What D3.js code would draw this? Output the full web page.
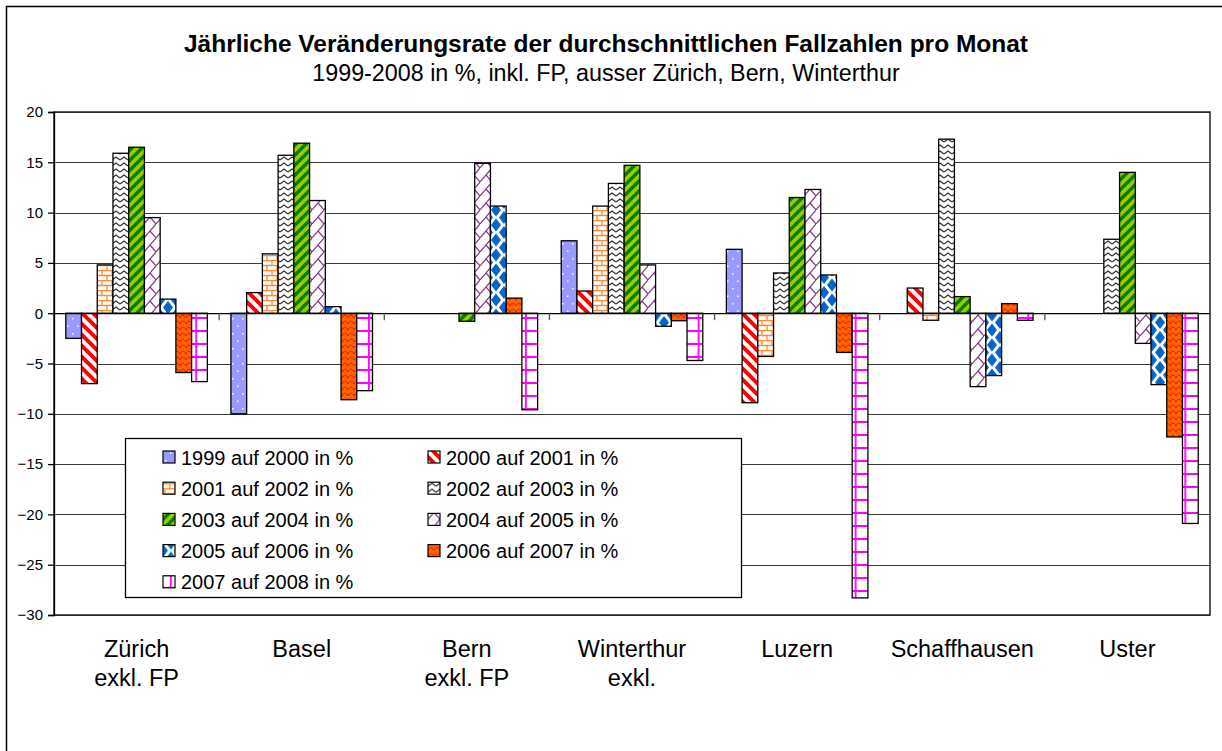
<!DOCTYPE html>
<html>
<head>
<meta charset="utf-8">
<script src="https://cdn.jsdelivr.net/npm/d3@7"></script>
<style>
    body { margin: 0; background: #fff; }
    text { font-family: "Liberation Sans", Arial, sans-serif; fill: #000; }
</style>
</head>
<body>
<div id="chart"></div>
<script>
// categories (x axis, one or two lines per label)
var categories = ["Zürich exkl. FP", "Basel", "Bern exkl. FP", "Winterthur exkl.", "Luzern", "Schaffhausen", "Uster"];
var categoryLines = [["Zürich", "exkl. FP"], ["Basel"], ["Bern", "exkl. FP"], ["Winterthur", "exkl."], ["Luzern"], ["Schaffhausen"], ["Uster"]];

// series names
var seriesNames = ["1999 auf 2000 in %", "2000 auf 2001 in %", "2001 auf 2002 in %", "2002 auf 2003 in %",
                   "2003 auf 2004 in %", "2004 auf 2005 in %", "2005 auf 2006 in %", "2006 auf 2007 in %",
                   "2007 auf 2008 in %"];

// values per series, in the order of categories (null = no bar)
var s1999 = [-2.5, -10.0, null, 7.2, 6.35, null, null];
var s2000 = [-7.0, 2.05, null, 2.2, -8.9, 2.5, null];
var s2001 = [4.8, 5.9, null, 10.65, -4.3, -0.7, null];
var s2002 = [15.9, 15.7, null, 12.9, 4.0, 17.3, 7.35];
var s2003 = [16.5, 16.9, -0.8, 14.7, 11.5, 1.65, 14.0];
var s2004 = [9.5, 11.2, 14.9, 4.8, 12.3, -7.3, -3.0];
var s2005 = [1.4, 0.65, 10.65, -1.3, 3.8, -6.2, -7.1];
var s2006 = [-5.9, -8.6, 1.5, -0.75, -3.9, 0.95, -12.3];
var s2007 = [-6.8, -7.7, -9.6, -4.7, -28.3, -0.7, -20.9];
var seriesValues = [s1999, s2000, s2001, s2002, s2003, s2004, s2005, s2006, s2007];

// y axis ticks
var yTicks = [20, 15, 10, 5, 0, -5, -10, -15, -20, -25, -30];

var width = 1222, height = 751;
var plot = { left: 54, right: 1210, top: 112, bottom: 615 };

var svg = d3.select("#chart").append("svg")
    .attr("width", width)
    .attr("height", height);

// fill patterns, one per series
var defs = svg.append("defs");

function pattern(id, w, h, bg) {
    var p = defs.append("pattern")
        .attr("id", id)
        .attr("patternUnits", "userSpaceOnUse")
        .attr("width", w)
        .attr("height", h);
    p.append("rect").attr("width", w).attr("height", h).attr("fill", bg);
    return p;
}

// 1999: lavender with small white dots
var p0 = pattern("p0", 10, 15, "#9999ff");
p0.append("rect").attr("x", 2).attr("y", 3).attr("width", 1.5).attr("height", 1.5).attr("fill", "#fff");
p0.append("rect").attr("x", 7).attr("y", 10.5).attr("width", 1.5).attr("height", 1.5).attr("fill", "#fff");

// 2000: white with red backslash stripes
var p1 = pattern("p1", 11, 11, "#fff");
p1.append("path").attr("d", "M-2,-2 L13,13 M-8,3 L8,19 M3,-8 L19,8")
    .attr("stroke", "#ff0000").attr("stroke-width", 4);

// 2001: white with orange bricks
var p2 = pattern("p2", 10, 10, "#fff");
p2.append("path").attr("d", "M0,0.5 H10 M0,5.5 H10 M2,0 V5 M7,5 V10")
    .attr("stroke", "#ff8a33").attr("stroke-width", 1.3).attr("fill", "none");

// 2002: white with dark zigzag
var p3 = pattern("p3", 8, 6, "#fff");
p3.append("path").attr("d", "M0,4 L4,1 L8,4")
    .attr("stroke", "#333").attr("stroke-width", 1.3).attr("fill", "none");

// 2003: yellow green with dark green slash stripes
var p4 = pattern("p4", 10, 10, "#99cc00");
p4.append("path").attr("d", "M-2,12 L12,-2 M-7,7 L7,-7 M3,17 L17,3")
    .attr("stroke", "#008000").attr("stroke-width", 3.4);

// 2004: white with purple shingle
var p5 = pattern("p5", 12, 14, "#fff");
p5.append("path").attr("d", "M0,14 L12,0 M6,7 L12,14")
    .attr("stroke", "#8b3a8b").attr("stroke-width", 1.2).attr("fill", "none");

// 2005: white with blue diamonds
var p6 = pattern("p6", 16, 15, "#fff");
p6.append("path").attr("d", "M8,1 L13,7.5 L8,14 L3,7.5 Z M0,-6.5 L5,0 L0,6.5 L-5,0 Z M16,-6.5 L21,0 L16,6.5 L11,0 Z M0,8.5 L5,15 L0,21.5 L-5,15 Z M16,8.5 L21,15 L16,21.5 L11,15 Z")
    .attr("fill", "#0066cc");

// 2006: orange with red scales
var p7 = pattern("p7", 12, 12, "#ff6600");
p7.append("path").attr("d", "M0,6 Q3,0 6,6 Q9,0 12,6 M-6,12 Q-3,6 0,12 Q3,6 6,12 Q9,6 12,12")
    .attr("stroke", "#ff0000").attr("stroke-width", 0.9).attr("fill", "none");

// 2007: white with magenta grid
var p8 = pattern("p8", 15.7, 13, "#fff");
p8.append("path").attr("d", "M7.8,0 V13 M0,6 H15.7")
    .attr("stroke", "#ff00ff").attr("stroke-width", 1.8);

// chart area border
svg.append("rect")
    .attr("x", 6.5).attr("y", 6.5)
    .attr("width", 1240).attr("height", 760)
    .attr("fill", "#fff")
    .attr("stroke", "#000")
    .attr("stroke-width", 1.5);

// scales
var x0 = d3.scaleBand()
    .domain(categories)
    .range([plot.left, plot.right])
    .padding(0);

var x1 = d3.scaleBand()
    .domain(d3.range(seriesNames.length))
    .range([0, x0.bandwidth()])
    .paddingInner(0)
    .paddingOuter(0.75);

var y = d3.scaleLinear()
    .domain([-30, 20])
    .range([plot.bottom, plot.top]);

// gridlines
svg.append("g")
    .selectAll("line")
    .data(yTicks)
    .enter()
    .append("line")
    .attr("x1", plot.left)
    .attr("x2", plot.right)
    .attr("y1", function(d) { return Math.round(y(d)) + 0.5; })
    .attr("y2", function(d) { return Math.round(y(d)) + 0.5; })
    .attr("stroke", "#3a3a3a")
    .attr("stroke-width", 1);

// plot border
svg.append("rect")
    .attr("x", plot.left).attr("y", plot.top)
    .attr("width", plot.right - plot.left)
    .attr("height", plot.bottom - plot.top)
    .attr("fill", "none")
    .attr("stroke", "#222")
    .attr("stroke-width", 1.5);

// bars
var groups = svg.append("g").selectAll("g")
    .data(seriesValues)
    .enter()
    .append("g")
    .attr("fill", function(d, i) { return "url(#p" + i + ")"; });

groups.selectAll("rect")
    .data(function(d, i) {
        return d.map(function(v, j) { return { s: i, c: categories[j], v: v }; })
            .filter(function(e) { return e.v !== null; });
    })
    .enter()
    .append("rect")
    .attr("x", function(d) { return x0(d.c) + x1(d.s); })
    .attr("width", x1.bandwidth())
    .attr("y", function(d) { return y(Math.max(0, d.v)); })
    .attr("height", function(d) { return Math.abs(y(d.v) - y(0)); })
    .attr("stroke", "#000")
    .attr("stroke-width", 1.3);

// category axis at zero
var xAxis = d3.axisBottom(x0)
    .tickValues([])
    .tickSizeOuter(0);
var xAxisG = svg.append("g")
    .attr("transform", "translate(0," + y(0) + ")")
    .call(xAxis);
xAxisG.select(".domain").attr("stroke", "#000").attr("stroke-width", 1.3);
xAxisG.selectAll(".sep")
    .data(d3.range(categories.length + 1))
    .enter()
    .append("line")
    .attr("class", "sep")
    .attr("x1", function(d) { return plot.left + d * x0.step(); })
    .attr("x2", function(d) { return plot.left + d * x0.step(); })
    .attr("y1", 0)
    .attr("y2", 7)
    .attr("stroke", "#555")
    .attr("stroke-width", 1.3);

// y axis
var yAxis = d3.axisLeft(y)
    .tickValues(yTicks)
    .tickSize(6)
    .tickPadding(5)
    .tickFormat(d3.format("d"));
var yAxisG = svg.append("g")
    .attr("transform", "translate(" + plot.left + ",0)")
    .call(yAxis);
yAxisG.select(".domain").attr("stroke", "#000").attr("stroke-width", 1.3);
yAxisG.selectAll(".tick line").attr("stroke", "#000").attr("stroke-width", 1.3);
yAxisG.selectAll(".tick text")
    .style("font-family", "'Liberation Sans', Arial, sans-serif")
    .style("font-size", "15px")
    .attr("fill", "#000");

// category labels
var catLabels = svg.append("g").selectAll("text")
    .data(categories)
    .enter()
    .append("text")
    .attr("x", function(d) { return x0(d) + x0.bandwidth() / 2; })
    .attr("y", 657)
    .style("text-anchor", "middle")
    .style("font-size", "23.5px");
catLabels.selectAll("tspan")
    .data(function(d, i) { return categoryLines[i]; })
    .enter()
    .append("tspan")
    .attr("x", function() { return d3.select(this.parentNode).attr("x"); })
    .attr("dy", function(d, i) { return i === 0 ? 0 : 28.5; })
    .text(function(d) { return d; });

// title
svg.append("text")
    .attr("x", 606)
    .attr("y", 52)
    .style("text-anchor", "middle")
    .style("font-weight", "bold")
    .style("font-size", "24.5px")
    .text("Jährliche Veränderungsrate der durchschnittlichen Fallzahlen pro Monat");

svg.append("text")
    .attr("x", 606)
    .attr("y", 81)
    .style("text-anchor", "middle")
    .style("font-size", "23.3px")
    .text("1999-2008 in %, inkl. FP, ausser Zürich, Bern, Winterthur");

// legend
var legend = svg.append("g");
legend.append("rect")
    .attr("x", 125.5).attr("y", 438.5)
    .attr("width", 616).attr("height", 159)
    .attr("fill", "#fff")
    .attr("stroke", "#000")
    .attr("stroke-width", 1.3);

var legendItems = legend.selectAll(".item")
    .data(seriesNames)
    .enter()
    .append("g")
    .attr("class", "item")
    .attr("transform", function(d, i) {
        return "translate(" + (i % 2 === 0 ? 163 : 428) + "," + (457 + Math.floor(i / 2) * 31.2) + ")";
    });
legendItems.append("rect")
    .attr("x", 0).attr("y", -6)
    .attr("width", 12).attr("height", 12)
    .attr("fill", function(d, i) { return "url(#p" + i + ")"; })
    .attr("stroke", "#000")
    .attr("stroke-width", 1.2);
legendItems.append("text")
    .attr("x", 18)
    .attr("y", 7.5)
    .style("font-size", "20px")
    .text(function(d) { return d; });
</script>
</body>
</html>
